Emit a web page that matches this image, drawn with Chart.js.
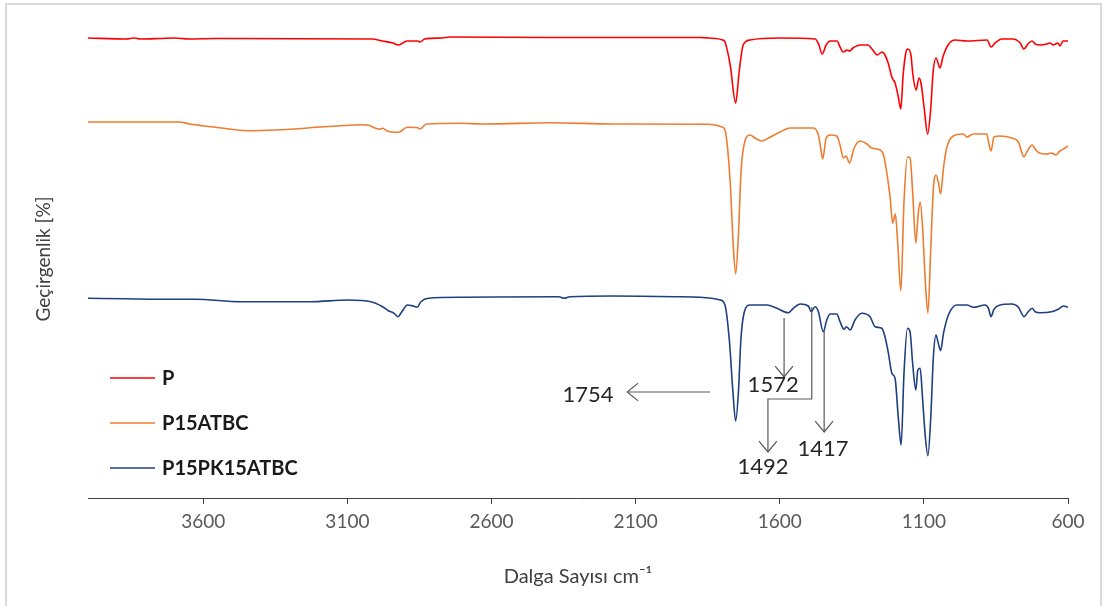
<!DOCTYPE html>
<html>
<head>
<meta charset="utf-8">
<script src="https://cdn.jsdelivr.net/npm/chart.js@4.4.1/dist/chart.umd.min.js"></script>
<style>
  html, body { margin: 0; padding: 0; background: #fff; }
  #wrap { position: relative; width: 1102px; height: 606px; overflow: hidden; }
  #ftirChart { display: block; }
  #frame { position: absolute; left: 5px; top: 3px; width: 1093px; height: 620px; border: 2px solid #d9d9d9; pointer-events: none; }
</style>
</head>
<body>
<div id="wrap">
  <canvas id="ftirChart" width="1102" height="606"></canvas>
  <div id="frame"></div>
</div>
<script>
// x axis ticks (wavenumber, cm-1)
const tickValues = [600, 1100, 1600, 2100, 2600, 3100, 3600];

const seriesNames = ['P', 'P15ATBC', 'P15PK15ATBC'];
const seriesColors = ['#ff0000', '#ed7d31', '#203f80'];

// P  (spectra are stacked, so values are offset transmittance)
const waveP = [4000, 3867, 3840, 3818, 3749, 3700, 3650, 3562, 3014, 2978, 2942, 2923, 2893, 2856, 2848, 2832, 2771, 2747,
  2396, 1876, 1847, 1798, 1790, 1772, 1753, 1741, 1727, 1703, 1599, 1477, 1464, 1453, 1439, 1425, 1401, 1391, 1380, 1366,
  1358, 1346, 1321, 1294, 1280, 1262, 1245, 1235, 1224, 1210, 1200, 1190, 1180, 1172, 1162, 1155, 1145, 1138, 1127, 1117,
  1110, 1099, 1087, 1076, 1068, 1058, 1044, 1034, 1016, 992, 950, 881, 867, 853, 829, 791, 766, 753, 739, 725, 714, 697,
  673, 662, 652, 635, 628, 617, 600];
const transP = [460, 459, 460, 459, 459.5, 460, 459, 459.5, 459, 457, 455, 453, 457, 457, 456, 459, 460, 461,
  460.5, 460.5, 460, 458, 456, 433, 395, 426, 453, 458, 460, 459, 453, 444, 453, 457, 457, 451, 446, 448,
  447, 450, 453, 453, 449, 443, 446, 443, 435, 420, 415, 403, 389, 423, 446, 449, 443, 423, 408, 420,
  415, 390, 364, 390, 426, 440, 430, 441, 453, 458, 457, 458, 451, 455, 459, 459, 455, 449, 454, 457, 454, 453,
  454, 455, 453, 455, 452, 457, 457];

// P15ATBC
const waveATBC = [4000, 3683, 3647, 3574, 3501, 3440, 3349, 3270, 3209, 3136, 3051, 3027, 3002, 2990, 2978, 2960, 2929, 2917,
  2893, 2856, 2848, 2826, 2710, 2625, 2396, 2177, 1847, 1798, 1790, 1772, 1762, 1753, 1743, 1735, 1726, 1703, 1686, 1662,
  1639, 1599, 1564, 1483, 1466, 1458, 1451, 1439, 1425, 1402, 1391, 1379, 1370, 1358, 1342, 1321, 1298, 1281, 1252, 1240,
  1229, 1217, 1208, 1199, 1191, 1180, 1169, 1157, 1148, 1139, 1128, 1120, 1113, 1105, 1095, 1086, 1076, 1067, 1058, 1050,
  1042, 1032, 1021, 998, 963, 951, 928, 882, 875, 867, 857, 836, 795, 772, 761, 753, 743, 724, 714, 700, 674, 657, 642,
  628, 610, 600];
const transATBC = [376, 376, 374, 371.3, 368.7, 367.3, 368, 369.3, 370.7, 372, 373.3, 372.7, 369.7, 368.7, 369.7, 366.7, 365.7, 366.3,
  370.7, 370.3, 369, 374, 374.7, 374, 375.3, 374, 373.7, 370.7, 368, 316, 256, 224, 266, 323, 350, 363, 360, 357,
  360, 366, 370, 370, 363, 350, 339, 360, 363, 362, 353, 340, 342, 335, 350, 357, 354, 350, 348, 343,
  326, 300, 275, 284, 256, 207, 296, 341, 340, 306, 255, 283, 296, 273, 216, 185, 250, 310, 323, 316,
  304, 330, 350, 362, 364, 361, 364, 364, 355, 347, 361, 362, 360, 356, 346, 341, 346, 353, 349, 345, 344, 345, 343,
  347, 350, 352];

// P15PK15ATBC
const wavePK = [4000, 3867, 3741, 3628, 3469, 3230, 3097, 3018, 2978, 2958, 2938, 2925, 2911, 2892, 2872, 2858, 2845, 2819,
  2699, 2367, 2348, 2328, 2181, 1956, 1876, 1807, 1790, 1775, 1763, 1753, 1743, 1735, 1724, 1703, 1645, 1610, 1570, 1553,
  1529, 1501, 1491, 1477, 1466, 1449, 1437, 1425, 1402, 1391, 1377, 1369, 1356, 1339, 1316, 1287, 1269, 1246, 1235, 1223,
  1211, 1200, 1189, 1179, 1169, 1157, 1148, 1139, 1128, 1121, 1113, 1105, 1095, 1086, 1076, 1067, 1058, 1050, 1042, 1032,
  1015, 986, 951, 928, 888, 876, 867, 857, 836, 795, 772, 761, 753, 738, 724, 714, 697, 657, 634, 616, 600];
const transPK = [199.7, 199.3, 198.7, 198.7, 196.3, 196.3, 198, 196.3, 191.3, 187.3, 184.7, 181.3, 186.3, 193, 192, 190.7, 196.3, 199.7,
  200.7, 201.3, 199.7, 201.3, 202, 201.3, 200.7, 198, 193, 158, 108, 77, 108, 158, 184.7, 193, 193, 189.7, 185.3, 189.7,
  194, 192, 186.3, 191.3, 186.3, 166.3, 178, 184, 184, 176.3, 168.7, 171.3, 168, 178, 184.7, 181.3, 171.3, 169.7, 161.3, 144.7,
  124.7, 119.7, 81.3, 53, 124.7, 169.7, 166.3, 134.7, 108, 128, 129.7, 101.3, 61.3, 42.3, 81.3, 141.3, 163, 154.7, 147.3, 164.7,
  183, 193, 193, 190.7, 193, 189.7, 181.3, 188.7, 193, 194, 190.7, 184.7, 181.3, 186.3, 189.7, 186.3, 185.3, 186.3, 188.7, 192, 190.7];

// peak callouts: label, then arrow path in (wavenumber, value) and label anchor
const peakLabels = ['1754', '1572', '1492', '1417'];
const calloutPaths = [
  [[1842, 106], [2129, 106]],
  [[1585, 180], [1585, 121]],
  [[1489, 191], [1489, 99], [1641, 99], [1641, 46]],
  [[1446, 168], [1446, 66]]
];
const calloutText = [[2265, 103], [1623, 113], [1658, 31], [1450, 49]];

function toPoints(xs, ys) {
  return xs.map((x, i) => ({ x: x, y: ys[i] }));
}

const allWaves = [waveP, waveATBC, wavePK];
const allTrans = [transP, transATBC, transPK];

const datasets = seriesNames.map((name, i) => ({
  label: name,
  data: toPoints(allWaves[i], allTrans[i]),
  borderColor: seriesColors[i],
  backgroundColor: seriesColors[i],
  borderWidth: 1.6,
  pointRadius: 0,
  cubicInterpolationMode: 'monotone',
  fill: false
}));

// legend drawn inside the plot, bottom left
const sideLegend = {
  id: 'sideLegend',
  afterDatasetsDraw(chart) {
    const ctx = chart.ctx;
    const area = chart.chartArea;
    ctx.save();
    ctx.font = 'bold 20px Lato';
    ctx.textBaseline = 'middle';
    ctx.textAlign = 'left';
    chart.data.datasets.forEach((ds, i) => {
      const y = area.bottom - 120 + i * 45;
      ctx.strokeStyle = ds.borderColor;
      ctx.lineWidth = 1.5;
      ctx.beginPath();
      ctx.moveTo(area.left + 22, y);
      ctx.lineTo(area.left + 67, y);
      ctx.stroke();
      ctx.fillStyle = '#1a1a1a';
      ctx.fillText(ds.label, area.left + 74, y + 1);
    });
    ctx.restore();
  }
};

// arrows and peak numbers
const peakCallouts = {
  id: 'peakCallouts',
  afterDatasetsDraw(chart) {
    const ctx = chart.ctx;
    const xs = chart.scales.x, ys = chart.scales.y;
    ctx.save();
    ctx.strokeStyle = '#595959';
    ctx.lineWidth = 1.2;
    calloutPaths.forEach(path => {
      const pts = path.map(p => [xs.getPixelForValue(p[0]), ys.getPixelForValue(p[1])]);
      ctx.beginPath();
      pts.forEach((p, j) => j === 0 ? ctx.moveTo(p[0], p[1]) : ctx.lineTo(p[0], p[1]));
      ctx.stroke();
      const [x1, y1] = pts[pts.length - 2];
      const [x2, y2] = pts[pts.length - 1];
      const ang = Math.atan2(y2 - y1, x2 - x1);
      const len = 14, spread = 0.69;
      ctx.beginPath();
      ctx.moveTo(x2 - len * Math.cos(ang - spread), y2 - len * Math.sin(ang - spread));
      ctx.lineTo(x2, y2);
      ctx.lineTo(x2 - len * Math.cos(ang + spread), y2 - len * Math.sin(ang + spread));
      ctx.stroke();
    });
    ctx.fillStyle = '#262626';
    ctx.font = '22px Lato';
    ctx.textAlign = 'center';
    ctx.textBaseline = 'middle';
    peakLabels.forEach((t, i) => {
      ctx.fillText(t, xs.getPixelForValue(calloutText[i][0]), ys.getPixelForValue(calloutText[i][1]));
    });
    ctx.restore();
  }
};

const ctx = document.getElementById('ftirChart').getContext('2d');
const ftirChart = new Chart(ctx, {
  type: 'line',
  data: { datasets: datasets },
  options: {
    responsive: false,
    animation: false,
    layout: { padding: { top: 20, right: 34, left: 0, bottom: 0 } },
    plugins: {
      legend: { display: false },
      tooltip: { enabled: false }
    },
    scales: {
      x: {
        type: 'linear',
        reverse: true,
        min: 600,
        max: 4000,
        afterBuildTicks: axis => { axis.ticks = tickValues.map(v => ({ value: v })); },
        afterFit: axis => { axis.height = 108; },
        border: { display: true, color: '#404040', width: 1 },
        grid: { drawOnChartArea: false, drawTicks: true, tickLength: 6, color: '#404040' },
        ticks: {
          color: '#595959',
          font: { family: 'Lato', size: 19 },
          padding: 6,
          maxRotation: 0,
          autoSkip: false,
          callback: v => String(v)
        },
        title: {
          display: true,
          text: 'Dalga Sayısı cm⁻¹',
          color: '#404040',
          font: { family: 'Lato', size: 20 },
          padding: { top: 0, bottom: 17 }
        }
      },
      y: {
        min: 0,
        max: 478,
        afterFit: axis => { axis.width = 88; },
        border: { display: false },
        grid: { display: false },
        ticks: { display: false },
        title: {
          display: true,
          text: 'Geçirgenlik [%]',
          color: '#404040',
          font: { family: 'Lato', size: 19 },
          padding: { top: 32, bottom: 0 }
        }
      }
    }
  },
  plugins: [sideLegend, peakCallouts]
});
</script>
</body>
</html>
